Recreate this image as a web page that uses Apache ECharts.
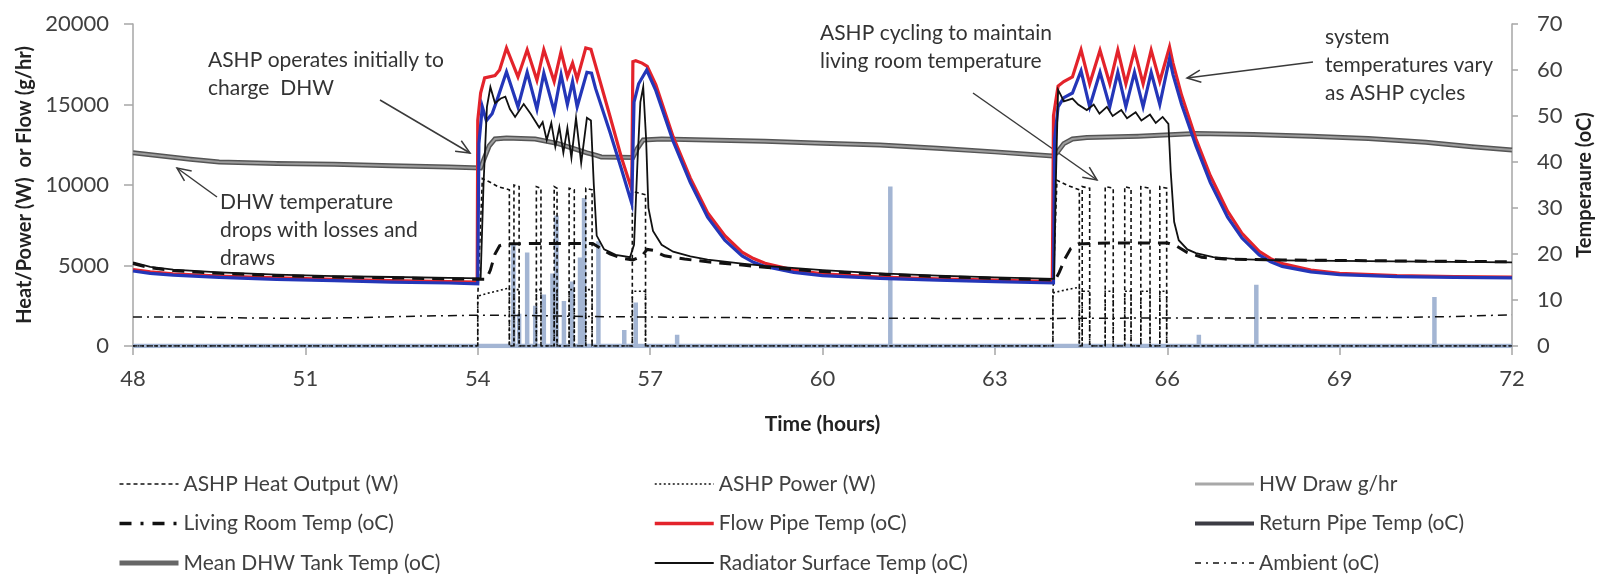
<!DOCTYPE html>
<html>
<head>
<meta charset="utf-8">
<title>ASHP operation</title>
<script src="https://cdn.jsdelivr.net/npm/echarts@6/dist/echarts.min.js"></script>
<style>
  html, body { margin: 0; padding: 0; background: #fff; }
  #chart { width: 1603px; height: 576px; }
</style>
</head>
<body>
<div id="chart"></div>
<script>
// time axis (hours)
var timeTicks = [48, 51, 54, 57, 60, 63, 66, 69, 72];

// ASHP heat output (W) - [hour, W]
var heatOutput = [[48,0],[54.0,0],[54.0,3000],[54.08,10400],[54.2,10200],[54.35,9900],[54.55,9700],[54.55,0],
  [54.63,0],[54.63,10000],[54.72,9900],[54.72,0],
  [55.02,0],[55.02,9900],[55.1,9800],[55.1,0],
  [55.33,0],[55.33,9900],[55.38,9800],[55.38,0],
  [55.59,0],[55.59,9800],[55.68,9700],[55.68,0],
  [55.88,0],[55.88,9800],[55.99,9700],[55.99,0],
  [56.69,0],[56.69,9600],[56.92,9400],[56.92,0],
  [64.01,0],[64.01,3200],[64.08,10300],[64.25,10000],[64.47,9700],[64.47,0],
  [64.52,0],[64.52,9900],[64.65,9800],[64.65,0],
  [64.92,0],[64.92,9900],[65.06,9800],[65.06,0],
  [65.26,0],[65.26,9900],[65.37,9800],[65.37,0],
  [65.54,0],[65.54,9900],[65.7,9800],[65.7,0],
  [65.87,0],[65.87,9900],[65.99,9800],[65.99,0],[72,0]];

// ASHP electrical power (W)
var ashpPower = [[48,0],[54.0,0],[54.0,3100],[54.2,3300],[54.55,3600],[54.55,0],
  [54.63,0],[54.63,3500],[54.72,3500],[54.72,0],
  [55.02,0],[55.02,3500],[55.1,3500],[55.1,0],
  [55.33,0],[55.33,3500],[55.38,3500],[55.38,0],
  [55.59,0],[55.59,3500],[55.68,3500],[55.68,0],
  [55.88,0],[55.88,3500],[55.99,3500],[55.99,0],
  [56.69,0],[56.69,3400],[56.92,3400],[56.92,0],
  [64.01,0],[64.01,3300],[64.25,3500],[64.47,3650],[64.47,0],
  [64.52,0],[64.52,3400],[64.65,3400],[64.65,0],
  [64.92,0],[64.92,3400],[65.06,3400],[65.06,0],
  [65.26,0],[65.26,3400],[65.37,3400],[65.37,0],
  [65.54,0],[65.54,3400],[65.7,3400],[65.7,0],
  [65.87,0],[65.87,3400],[65.99,3400],[65.99,0],[72,0]];

// hot water draws (g/hr)
var hwDrawTimes  = [54.62, 54.72, 54.86, 55.0, 55.15, 55.3, 55.37, 55.5, 55.64, 55.78, 55.85, 56.1, 56.55, 56.75, 57.47, 61.18, 66.55, 67.55, 70.65];
var hwDrawValues = [6300, 2000, 5800, 2500, 3200, 4500, 8100, 2800, 4000, 5500, 9200, 6500, 1000, 2700, 700, 9900, 700, 3800, 3050];

// temperatures (oC)
var livingRoom = [[48,17.9],[48.3,17.0],[48.7,16.4],[49.5,15.8],[50.5,15.3],[51.5,15.0],[52.5,14.8],[53.5,14.6],[54.15,14.5],
  [54.22,16.5],[54.3,20],[54.38,21.8],[54.5,22.2],[55,22.3],[55.5,22.3],[56.0,22.3],[56.1,21.5],[56.3,20.0],[56.5,19.1],[56.7,18.7],
  [56.85,19.5],[56.95,21.0],[57.05,20.8],[57.25,19.6],[57.6,18.9],[58.0,18.3],[58.6,17.6],[59,17.1],[60,16.2],[61,15.6],[62,15.1],[63,14.7],
  [64.05,14.4],[64.12,16],[64.22,19],[64.32,21.2],[64.45,22.2],[65,22.4],[65.5,22.4],[66.0,22.4],[66.15,21.8],[66.35,20.3],[66.6,19.3],
  [67.0,18.9],[68,18.7],[70,18.5],[72,18.3]];

var flowPipe = [[48,16.6],[48.3,16.1],[48.7,15.7],[49.5,15.2],[50.5,14.8],[51.5,14.5],[52.5,14.2],[53.5,14.0],[53.99,13.9],
  [54.0,49],[54.05,55],[54.12,58.3],[54.3,58.8],[54.38,60],[54.5,64.8],[54.7,58.5],[54.86,64.4],[55.03,57.8],[55.15,64.4],[55.33,57.5],
  [55.45,64],[55.56,58.5],[55.65,61.5],[55.73,58],[55.88,64.8],[55.97,64.5],[56.05,61],[56.3,50],[56.5,41],[56.68,34],
  [56.7,61.8],[56.75,62],[56.86,61.5],[56.95,60.8],[57.1,56.8],[57.4,45.5],[57.7,36.5],[58.0,29],[58.3,24],[58.6,20.4],[58.8,19],
  [59.0,18],[59.5,16.5],[60,15.7],[61,15.0],[62,14.6],[63,14.3],[64.0,14.0],
  [64.02,50],[64.1,56.5],[64.2,57.5],[64.35,58.5],[64.5,64.4],[64.65,57],[64.83,64.3],[65.0,57],[65.14,64.3],[65.28,57],[65.43,64.3],
  [65.58,57],[65.72,64.3],[65.87,57.5],[66.04,65],[66.1,61.5],[66.25,54.5],[66.5,45],[66.75,37],[67.05,29.3],[67.3,24.5],[67.6,20.6],
  [67.8,19],[68,17.9],[68.5,16.5],[69,15.8],[70,15.3],[71,15.1],[72,15.0]];

var returnPipe = [[48,16.3],[48.3,15.8],[48.7,15.4],[49.5,14.9],[50.5,14.5],[51.5,14.2],[52.5,13.9],[53.5,13.7],[54.0,13.5],
  [54.02,44],[54.08,52],[54.15,49],[54.25,50.5],[54.35,54],[54.5,59.6],[54.7,52],[54.86,59.5],[55.03,51.5],[55.15,59.3],[55.33,51],
  [55.45,59],[55.56,52.5],[55.65,57.5],[55.73,52],[55.9,59.5],[55.98,59.3],[56.05,56],[56.3,46.5],[56.5,38.5],[56.68,31],
  [56.72,53],[56.8,57],[56.94,60],[57.1,55.5],[57.4,44.5],[57.7,35.5],[58.0,28],[58.3,23],[58.6,19.6],[58.8,18.2],[59.0,17.3],
  [59.5,16.0],[60,15.3],[61,14.7],[62,14.3],[63,14.0],[64.02,13.7],
  [64.04,45],[64.1,52],[64.2,54],[64.35,55],[64.5,59.8],[64.65,52],[64.83,59.5],[65.0,52],[65.14,59.5],[65.28,52],[65.43,59.5],
  [65.58,52],[65.72,59.5],[65.87,52.5],[66.04,62.5],[66.1,59],[66.25,52.5],[66.5,43.5],[66.75,35.5],[67.05,28],[67.3,23.5],
  [67.6,19.8],[67.8,18.3],[68.0,17.3],[68.5,16.1],[69,15.5],[70,15.1],[71,14.9],[72,14.8]];

var dhwTank = [[48,42.0],[48.5,41.3],[49,40.6],[49.5,40.0],[50.5,39.7],[51.5,39.5],[52.5,39.2],[53.5,38.9],[54.05,38.7],
  [54.12,41],[54.2,43.5],[54.3,45.0],[54.5,45.2],[55.0,45.0],[55.4,44.0],[55.9,42.0],[56.05,41.5],[56.15,41.1],[56.7,41.0],
  [56.78,43],[56.88,44.8],[57.2,45.0],[58,44.8],[59,44.5],[60,44.1],[61,43.7],[62,43.0],[63,42.2],[64.0,41.3],
  [64.08,42],[64.2,44],[64.35,45],[64.6,45.3],[65.5,45.6],[66.5,46.2],[67.5,46.0],[68.5,45.6],[69.5,45.1],[70.5,44.3],
  [71.3,43.3],[72,42.6]];

var radiator = [[48,18.2],[48.3,17.2],[48.7,16.6],[49.5,16.0],[50.5,15.5],[51.5,15.2],[52.5,15.0],[53.5,14.8],[54.05,14.7],
  [54.1,35],[54.16,52],[54.22,56.3],[54.3,52.8],[54.4,53.8],[54.48,54.2],[54.56,51.5],[54.65,49.8],[54.8,52.6],[54.92,50.5],
  [55.07,47.5],[55.13,48.7],[55.2,44.8],[55.28,48.5],[55.35,43.3],[55.42,47.6],[55.49,42.0],[55.56,47.4],[55.63,40.9],
  [55.71,49.6],[55.8,39.8],[55.9,49.6],[55.97,49.0],[56.02,35],[56.07,24],[56.2,21],[56.4,19.8],[56.65,19.3],
  [56.72,22],[56.78,40],[56.83,53],[56.88,56.3],[56.93,45],[56.97,30],[57.05,25],[57.2,22],[57.4,20.5],[57.7,19.5],
  [58.0,18.8],[58.6,17.9],[59,17.4],[60,16.5],[61,15.8],[62,15.3],[63,14.9],[64.03,14.6],
  [64.06,35],[64.1,55.7],[64.15,54.5],[64.2,53.2],[64.35,53.8],[64.45,52.5],[64.6,51.3],[64.72,52.5],[64.82,50.5],[64.95,52],
  [65.05,50],[65.2,51.3],[65.3,49.5],[65.45,50.8],[65.55,49],[65.7,50.3],[65.8,48.5],[65.92,49.8],[66.02,48.3],
  [66.06,38],[66.12,27],[66.2,23],[66.35,21],[66.5,20.2],[66.8,19.3],[67.2,18.9],[68,18.6],[70,18.4],[72,18.2]];

var ambient = [[48,6.3],[49,6.3],[50,6.1],[51,6.0],[52,6.2],[53,6.5],[54,6.7],[55,6.6],[56,6.4],[57,6.3],[58,6.2],[60,6.1],
  [62,6.0],[64,6.0],[66,6.1],[68,6.1],[70,6.2],[71,6.4],[72,6.8]];

// draws as thin spikes from the zero line
var hwDraw = [[timeTicks[0], 0]];
for (var i = 0; i < hwDrawTimes.length; i++) {
  hwDraw.push([hwDrawTimes[i], 0], [hwDrawTimes[i], hwDrawValues[i]], [hwDrawTimes[i], 0]);
}
hwDraw.push([timeTicks[timeTicks.length - 1], 0]);

var FONT = 'Lato, "Open Sans", sans-serif';
var TXT = '#333333';

function lineSeries(name, data, yIdx, color, width, type, z) {
  return {
    name: name, type: 'line', data: data, yAxisIndex: yIdx,
    symbol: 'none', showSymbol: false, animation: false, z: z || 2,
    lineStyle: { color: color, width: width, type: type || 'solid', cap: 'butt', join: 'miter' },
    itemStyle: { color: color }
  };
}

function arrow(x1, y1, x2, y2) {
  var a = Math.atan2(y2 - y1, x2 - x1), L = 15, w = 0.42;
  var st = { stroke: '#3a3a3a', lineWidth: 1.5, fill: 'none' };
  return [
    { type: 'polyline', silent: true, shape: { points: [[x1, y1], [x2, y2]] }, style: st },
    { type: 'polyline', silent: true, shape: { points: [
      [x2 - L * Math.cos(a - w), y2 - L * Math.sin(a - w)], [x2, y2],
      [x2 - L * Math.cos(a + w), y2 - L * Math.sin(a + w)]] }, style: st }
  ];
}

function note(x, y, text) {
  return { type: 'text', silent: true, x: x, y: y,
    style: { text: text, font: '21px ' + FONT, fill: TXT, lineHeight: 28, verticalAlign: 'top' } };
}

// legend entry with its own icon line
function item(name, color, width, type) {
  return { name: name, lineStyle: { color: color, width: width, type: type || 'solid' },
           itemStyle: { color: color, opacity: 0 } };
}

function legendCol(left, items) {
  return {
    orient: 'vertical', left: left, top: 467, height: 112, itemWidth: 59, itemHeight: 14, itemGap: 15.5,
    selectedMode: false, data: items,
    itemStyle: { opacity: 0 },
    textStyle: { fontFamily: FONT, fontSize: 21, color: '#404040', lineHeight: 24 }
  };
}

var plainNum = function (v) { return String(v); };

var chart = echarts.init(document.getElementById('chart'));
chart.setOption({
  backgroundColor: '#fff',
  animation: false,
  grid: { left: 133, right: 88, top: 24, bottom: 230 },
  xAxis: {
    type: 'value', min: 48, max: 72, interval: 3,
    name: 'Time (hours)', nameLocation: 'middle', nameGap: 68,
    nameTextStyle: { fontFamily: FONT, fontSize: 21, fontWeight: 'bold', color: '#222' },
    axisLine: { lineStyle: { color: '#a9b3c6', width: 2 } },
    axisTick: { length: 9, lineStyle: { color: '#a6a6a6', width: 1.5 } },
    axisLabel: { margin: 22, fontFamily: FONT, fontSize: 22, color: '#404040', formatter: plainNum },
    splitLine: { show: false }
  },
  yAxis: [{
    type: 'value', min: 0, max: 20000, interval: 5000,
    name: 'Heat/Power (W)  or Flow (g/hr)', nameLocation: 'middle', nameGap: 98,
    nameTextStyle: { fontFamily: FONT, fontSize: 20, fontWeight: 'bold', color: '#222' },
    axisLine: { show: true, lineStyle: { color: '#a6a6a6', width: 1.5 } },
    axisTick: { show: true, length: 9, lineStyle: { color: '#a6a6a6', width: 1.5 } },
    axisLabel: { margin: 24, fontFamily: FONT, fontSize: 22, color: '#404040', formatter: plainNum },
    splitLine: { show: false }
  }, {
    type: 'value', min: 0, max: 70, interval: 10, position: 'right',
    name: 'Temperaure (oC)', nameLocation: 'middle', nameGap: 63,
    nameTextStyle: { fontFamily: FONT, fontSize: 20, fontWeight: 'bold', color: '#222' },
    axisLine: { show: true, lineStyle: { color: '#a6a6a6', width: 1.5 } },
    axisTick: { show: true, length: 6, lineStyle: { color: '#a6a6a6', width: 1.5 } },
    axisLabel: { margin: 25, fontFamily: FONT, fontSize: 22, color: '#404040', formatter: plainNum },
    splitLine: { show: false }
  }],
  legend: [
    legendCol(112, [item('ASHP Heat Output (W)', '#111', 1.6, [4, 3]),
                    item('Living Room Temp (oC)', '#111', 3.5, [12, 9, 3, 9]),
                    item('Mean DHW Tank Temp (oC)', '#666', 5)]),
    legendCol(648, [item('ASHP Power (W)', '#111', 1.6, [2, 2.5]),
                    item('Flow Pipe Temp (oC)', '#e3232b', 3.5),
                    item('Radiator Surface Temp (oC)', '#111', 2)]),
    legendCol(1188, [item('HW Draw g/hr', '#a8a8a8', 3),
                     item('Return Pipe Temp (oC)', '#3c3c44', 4),
                     item('Ambient (oC)', '#111', 1.6, [6, 5, 2, 5])])
  ],
  series: [
    lineSeries('HW Draw g/hr', hwDraw, 0, '#a3b5d3', 4.5, 'solid', 1),
    lineSeries('Mean DHW Tank Temp (oC)', dhwTank, 1, '#555', 5),
    // lighter core of the same tank line
    { type: 'line', data: dhwTank, yAxisIndex: 1, symbol: 'none', silent: true, z: 2,
      lineStyle: { color: '#9c9c9c', width: 2 } },
    lineSeries('Ambient (oC)', ambient, 1, '#111', 1.5, [9, 5, 2, 5]),
    lineSeries('ASHP Heat Output (W)', heatOutput, 0, '#111', 1.6, [4, 3]),
    lineSeries('ASHP Power (W)', ashpPower, 0, '#111', 1.6, [2, 2.5]),
    lineSeries('Flow Pipe Temp (oC)', flowPipe, 1, '#e3232b', 3.2),
    lineSeries('Return Pipe Temp (oC)', returnPipe, 1, '#2436b8', 3.2),
    lineSeries('Radiator Surface Temp (oC)', radiator, 1, '#111', 1.8),
    lineSeries('Living Room Temp (oC)', livingRoom, 1, '#111', 3, [12, 8])
  ],
  graphic: [].concat(
    note(208, 46, 'ASHP operates initially to\ncharge  DHW'),
    note(220, 188, 'DHW temperature\ndrops with losses and\ndraws'),
    note(820, 19, 'ASHP cycling to maintain\nliving room temperature'),
    note(1325, 23, 'system\ntemperatures vary\nas ASHP cycles'),
    arrow(380, 100, 470, 153),
    arrow(217, 197, 177, 168),
    arrow(973, 93, 1097, 180),
    arrow(1313, 62, 1187, 78)
  )
});
</script>
</body>
</html>
